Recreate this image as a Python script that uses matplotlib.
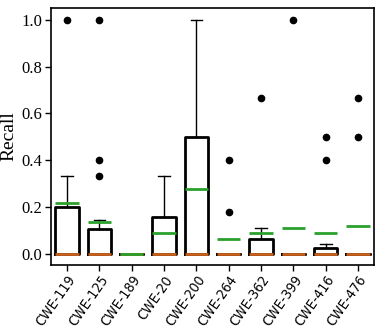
import matplotlib
matplotlib.use("Agg")
import matplotlib.pyplot as plt

categories = ["CWE-119", "CWE-125", "CWE-189", "CWE-20", "CWE-200",
              "CWE-264", "CWE-362", "CWE-399", "CWE-416", "CWE-476"]
q1 = [0, 0, 0, 0, 0, 0, 0, 0, 0, 0]
medians = [0, 0, 0, 0, 0, 0, 0, 0, 0, 0]
q3 = [0.2, 0.107, 0, 0.157, 0.5, 0, 0.063, 0, 0.023, 0]
whis_lo = [0, 0, 0, 0, 0, 0, 0, 0, 0, 0]
whis_hi = [0.333, 0.143, 0, 0.333, 1.0, 0, 0.11, 0, 0.04, 0]
means = [0.218, 0.135, 0, 0.088, 0.276, 0.065, 0.087, 0.111, 0.087, 0.118]
fliers = [[1.0], [1.0, 0.4, 0.333], [], [], [],
          [0.4, 0.18], [0.667], [1.0], [0.5, 0.4], [0.667, 0.5]]

stats = []
for i in range(len(categories)):
    stats.append(dict(med=medians[i], q1=q1[i], q3=q3[i], whislo=whis_lo[i],
                      whishi=whis_hi[i], mean=means[i], fliers=fliers[i],
                      label=categories[i]))

fig = plt.figure(figsize=(3.91, 3.31), dpi=100)
ax = fig.add_axes([0.130, 0.200, 0.827, 0.776])

ax.bxp(stats, positions=range(len(categories)), widths=0.72,
       showmeans=True, meanline=True, patch_artist=False,
       boxprops=dict(color="black", linewidth=2.0),
       whiskerprops=dict(color="black", linewidth=1.0),
       capprops=dict(color="black", linewidth=1.0),
       capwidths=0.36,
       medianprops=dict(color="#c8621c", linewidth=2.0),
       meanprops=dict(color="#2ca02c", linewidth=2.0, linestyle="-"),
       flierprops=dict(marker="o", markerfacecolor="black", markeredgecolor="black",
                       markersize=4.5))

ax.set_xlim(-0.5, len(categories) - 0.5)
ax.set_ylim(-0.047, 1.051)
ax.set_yticks([0.0, 0.2, 0.4, 0.6, 0.8, 1.0])
ax.set_yticklabels(["0.0", "0.2", "0.4", "0.6", "0.8", "1.0"],
                   family=["Liberation Serif", "DejaVu Serif"], fontsize=12)
ax.set_xticks(range(len(categories)))
ax.set_xticklabels(categories, rotation=55, ha="right", va="top",
                   rotation_mode="anchor", family=["DejaVu Sans"],
                   fontstretch="condensed", fontsize=10.2)
ax.set_ylabel("Recall", family=["Liberation Serif", "DejaVu Serif"], fontsize=14,
              labelpad=3)
ax.tick_params(axis="both", direction="out", length=4, width=1, color="black")
ax.tick_params(axis="y", pad=2)
ax.tick_params(axis="x", pad=2)
for s in ax.spines.values():
    s.set_linewidth(1.2)

fig.savefig("out.png", dpi=100)
